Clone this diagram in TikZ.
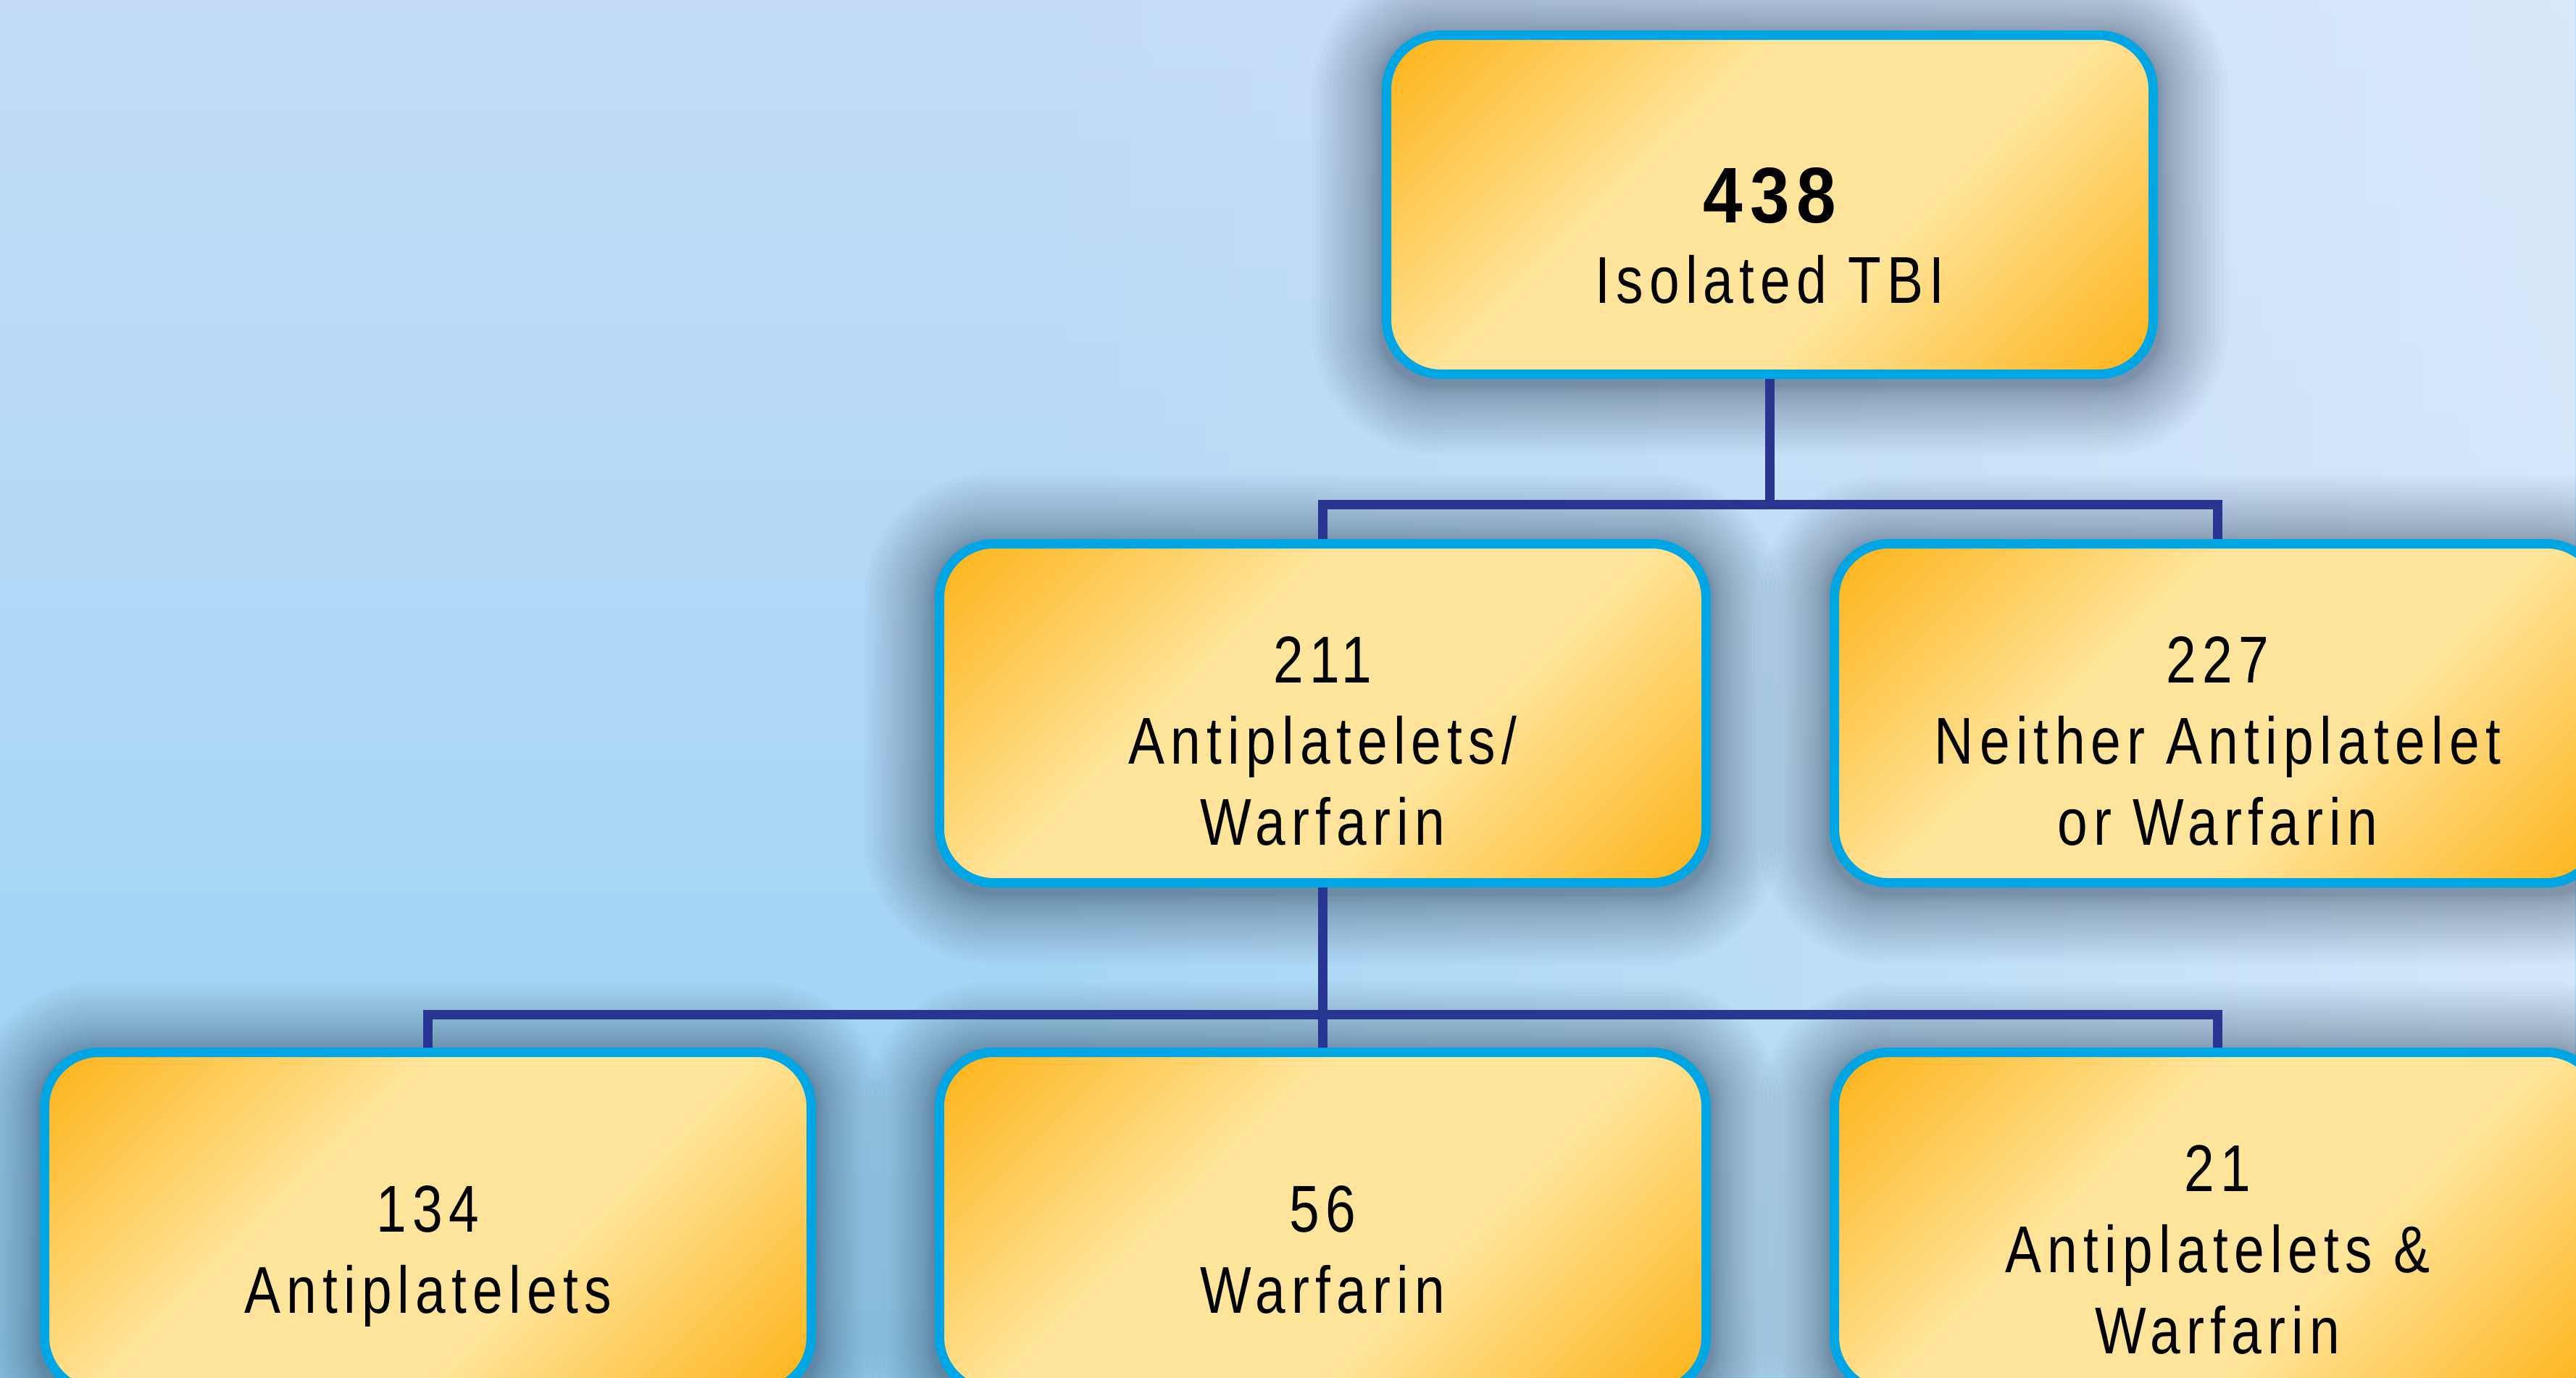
\documentclass[tikz,border=0pt]{standalone}
\usepackage{fontspec}
\setmainfont{Liberation Sans}[FakeStretch=0.82, LetterSpace=9, BoldFeatures={FakeStretch=0.9}]
\usetikzlibrary{fadings}

\definecolor{boxorange}{RGB}{253,181,30}
\definecolor{boxpale}{RGB}{255,229,156}
\definecolor{boxblue}{RGB}{0,165,227}
\definecolor{linkblue}{RGB}{40,54,145}
\definecolor{bgcyan}{RGB}{152,210,243}
\definecolor{bgtop}{RGB}{196,220,248}
\definecolor{bglight}{RGB}{220,234,251}
\definecolor{bglilac}{RGB}{178,200,246}
\definecolor{glowgrey}{RGB}{20,40,60}

\pgfdeclareverticalshading{boxshade}{100bp}{color(0bp)=(boxorange); color(16bp)=(boxorange); color(40bp)=(boxpale); color(60bp)=(boxpale); color(84bp)=(boxorange); color(100bp)=(boxorange)}
\tikzfading[name=rightfade, left color=transparent!100, right color=transparent!15]
\tikzfading[name=bandfade, top color=transparent!100, middle color=transparent!40, bottom color=transparent!100]

\pgfdeclarelayer{backdrop}
\pgfdeclarelayer{glow}
\pgfsetlayers{backdrop,glow,main}

\newcommand{\upstrut}[1][1.65cm]{\rule{0pt}{#1}}
\newcommand{\downstrut}{\rule[-0.25cm]{0pt}{0pt}}

\begin{document}
\begin{tikzpicture}[count node/.style={draw=boxblue, line width=0.13cm, rounded corners=0.75cm, shading=boxshade, shading angle=45, minimum width=10.58cm, minimum height=4.68cm, inner sep=0pt, align=center, font=\fontsize{26}{31.8}\selectfont}, link/.style={draw=linkblue, line width=0.13cm}, glow step/.style={glowgrey, opacity=0.018}]
    \useasboundingbox (0,0) rectangle (35.55,-19.01);
    % background
    \begin{pgfonlayer}{backdrop}
    \shade[top color=bgtop, middle color=bgcyan, bottom color=bgcyan] (0,0) rectangle (35.55,-19.01);
    \fill[bglight, path fading=rightfade] (14,0) rectangle (35.55,-19.01);
    \fill[bglilac, path fading=bandfade] (0,-3.9) rectangle (24,-7.2);
    \end{pgfonlayer}

    \node[count node] at (24.425, -2.825) (tbi) {\upstrut[1.86cm]{\bfseries\fontsize{31}{31.8}\selectfont 438}\\Isolated TBI\downstrut};
    \node[count node] at (18.255, -9.845) (anti) {\upstrut 211\\Antiplatelets/\\Warfarin\downstrut};
    \node[count node] at (30.605, -9.845) (neither) {\upstrut 227\\Neither Antiplatelet\\or Warfarin\downstrut};
    \node[count node] at (5.905, -16.865) (antionly) {\upstrut 134\\Antiplatelets\downstrut};
    \node[count node] at (18.255, -16.865) (warf) {\upstrut 56\\Warfarin\downstrut};
    \node[count node] at (30.605, -16.865) (both) {\upstrut 21\\Antiplatelets \&\\Warfarin\downstrut};

    % soft shadow round every box
    \begin{pgfonlayer}{glow}
    \foreach \n in {tbi,anti,neither,antionly,warf,both}
        \foreach \i in {1,...,24} {
            \pgfmathsetmacro{\grow}{0.02+0.95*(\i/24)^1.6}
            \fill[glow step, rounded corners=0.75cm+\grow cm] ([shift={(-\grow,-\grow-0.08)}]\n.south west) rectangle ([shift={(\grow,\grow-0.08)}]\n.north east);
        }
    \end{pgfonlayer}

    \coordinate (split1) at (24.425, -6.965);
    \coordinate (split2) at (18.255, -14.005);

    \draw[link] (tbi) -- (split1) -| (anti);
    \draw[link] (split1) -| (neither);
    \draw[link] (anti) -- (split2) -| (antionly);
    \draw[link] (split2) -- (warf);
    \draw[link] (split2) -| (both);
\end{tikzpicture}
\end{document}
